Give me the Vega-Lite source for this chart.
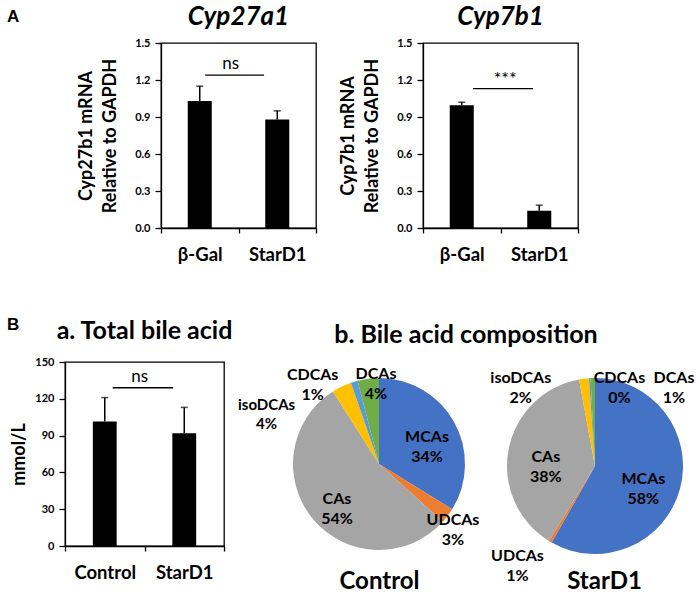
{
  "$schema": "https://vega.github.io/schema/vega-lite/v6.json",
  "background": "white",
  "padding": {"left": 7, "top": 3, "right": 0, "bottom": 0},
  "datasets": {
    "a1": [{"grp": "β-Gal", "mean": 1.03, "upper": 1.15}, {"grp": "StarD1", "mean": 0.88, "upper": 0.95}],
    "a2": [{"grp": "β-Gal", "mean": 0.995, "upper": 1.02}, {"grp": "StarD1", "mean": 0.14, "upper": 0.185}],
    "ba": [{"grp": "Control", "mean": 101.5, "upper": 121}, {"grp": "StarD1", "mean": 92, "upper": 113}],
    "pie": [
      {"group": "Control", "part": "MCAs", "k": 1, "frac": 0.338},
      {"group": "Control", "part": "UDCAs", "k": 2, "frac": 0.029},
      {"group": "Control", "part": "CAs", "k": 3, "frac": 0.543},
      {"group": "Control", "part": "isoDCAs", "k": 4, "frac": 0.037},
      {"group": "Control", "part": "CDCAs", "k": 5, "frac": 0.013},
      {"group": "Control", "part": "DCAs", "k": 6, "frac": 0.040},
      {"group": "StarD1", "part": "MCAs", "k": 1, "frac": 0.582},
      {"group": "StarD1", "part": "UDCAs", "k": 2, "frac": 0.006},
      {"group": "StarD1", "part": "CAs", "k": 3, "frac": 0.383},
      {"group": "StarD1", "part": "isoDCAs", "k": 4, "frac": 0.018},
      {"group": "StarD1", "part": "CDCAs", "k": 5, "frac": 0.003},
      {"group": "StarD1", "part": "DCAs", "k": 6, "frac": 0.008}
    ]
  },
  "config": {
    "font": "Lato",
    "view": {"stroke": null},
    "axis": {
      "labelColor": "black", "titleColor": "black", "domainColor": "black", "tickColor": "black",
      "labelFont": "Lato", "titleFont": "Lato", "labelFontWeight": "bold", "titleFontWeight": "bold",
      "domainWidth": 1.3, "tickWidth": 1.3, "grid": false, "labelOverlap": false
    },
    "axisX": {"labelAngle": 0, "tickBand": "extent", "labelFontSize": 18.5, "labelPadding": 12, "tickSize": 5},
    "axisY": {"tickSize": 6, "labelPadding": 5, "labelFontSize": 11, "titleFontSize": 18, "titleLineHeight": 24, "titlePadding": 15},
    "title": {"font": "Lato", "color": "black", "fontWeight": "bold"},
    "text": {"font": "Lato", "color": "black"}
  },
  "spacing": 51,
  "vconcat": [
    {
      "bounds": "flush",
      "spacing": 107,
      "hconcat": [
        {
          "width": 47, "height": 10,
          "title": {"text": "A", "anchor": "start", "frame": "group", "font": "Liberation Sans", "fontSize": 17, "offset": 16},
          "data": {"values": [{}]},
          "mark": {"type": "text", "text": ""}
        },
        {
          "width": 155, "height": 185,
          "view": {"stroke": "black", "strokeWidth": 1.3},
          "title": {"text": "Cyp27a1", "fontStyle": "italic", "fontSize": 26, "offset": 7},
          "data": {"name": "a1"},
          "encoding": {
            "x": {"field": "grp", "type": "nominal", "sort": null, "title": null,
                  "scale": {"domain": ["β-Gal", "StarD1"], "paddingInner": 0, "paddingOuter": 0}},
            "y": {"field": "mean", "type": "quantitative", "scale": {"domain": [0, 1.5], "nice": false},
                  "axis": {"values": [0, 0.3, 0.6, 0.9, 1.2, 1.5], "format": ".1f", "title": ["Cyp27b1 mRNA", "Relative to GAPDH"]}}
          },
          "layer": [
            {"mark": {"type": "bar", "color": "black", "width": {"band": 0.31}}},
            {"mark": {"type": "rule", "color": "black", "strokeWidth": 1.5},
             "encoding": {"y2": {"field": "upper"}}},
            {"mark": {"type": "tick", "color": "black", "thickness": 1.5, "size": 7},
             "encoding": {"y": {"field": "upper", "type": "quantitative"}}},
            {"data": {"values": [{"g1": "β-Gal"}]},
             "mark": {"type": "rule", "color": "black", "strokeWidth": 1.3},
             "encoding": {"x": {"field": "g1", "type": "nominal", "sort": null, "title": null, "bandPosition": 1},
                          "y": {"datum": 0}, "y2": {"datum": 0.057}}},
            {"data": {"values": [{"g1": "β-Gal", "g2": "StarD1", "y": 1.24}]},
             "mark": {"type": "rule", "color": "black", "strokeWidth": 1.3},
             "encoding": {"x": {"field": "g1", "type": "nominal", "sort": null, "title": null, "bandPosition": 0.57},
                          "x2": {"field": "g2", "bandPosition": 0.33},
                          "y": {"field": "y", "type": "quantitative"}}},
            {"data": {"values": [{"g1": "β-Gal", "y": 1.33, "label": "ns"}]},
             "mark": {"type": "text", "fontSize": 17, "fontWeight": "normal"},
             "encoding": {"x": {"field": "g1", "type": "nominal", "sort": null, "title": null, "bandPosition": 0.9},
                          "y": {"field": "y", "type": "quantitative"}, "text": {"field": "label"}}}
          ]
        },
        {
          "width": 155, "height": 185,
          "view": {"stroke": "black", "strokeWidth": 1.3},
          "title": {"text": "Cyp7b1", "fontStyle": "italic", "fontSize": 26, "offset": 7},
          "data": {"name": "a2"},
          "encoding": {
            "x": {"field": "grp", "type": "nominal", "sort": null, "title": null,
                  "scale": {"domain": ["β-Gal", "StarD1"], "paddingInner": 0, "paddingOuter": 0}},
            "y": {"field": "mean", "type": "quantitative", "scale": {"domain": [0, 1.5], "nice": false},
                  "axis": {"values": [0, 0.3, 0.6, 0.9, 1.2, 1.5], "format": ".1f", "title": ["Cyp7b1 mRNA", "Relative to GAPDH"]}}
          },
          "layer": [
            {"mark": {"type": "bar", "color": "black", "width": {"band": 0.31}}},
            {"mark": {"type": "rule", "color": "black", "strokeWidth": 1.5},
             "encoding": {"y2": {"field": "upper"}}},
            {"mark": {"type": "tick", "color": "black", "thickness": 1.5, "size": 7},
             "encoding": {"y": {"field": "upper", "type": "quantitative"}}},
            {"data": {"values": [{"g1": "β-Gal"}]},
             "mark": {"type": "rule", "color": "black", "strokeWidth": 1.3},
             "encoding": {"x": {"field": "g1", "type": "nominal", "sort": null, "title": null, "bandPosition": 1},
                          "y": {"datum": 0}, "y2": {"datum": 0.057}}},
            {"data": {"values": [{"g1": "β-Gal", "g2": "StarD1", "y": 1.13}]},
             "mark": {"type": "rule", "color": "black", "strokeWidth": 1.3},
             "encoding": {"x": {"field": "g1", "type": "nominal", "sort": null, "title": null, "bandPosition": 0.645},
                          "x2": {"field": "g2", "bandPosition": 0.42},
                          "y": {"field": "y", "type": "quantitative"}}},
            {"data": {"values": [{"g2": "StarD1", "y": 1.2, "label": "***"}]},
             "mark": {"type": "text", "fontSize": 18, "fontWeight": "normal"},
             "encoding": {"x": {"field": "g2", "type": "nominal", "sort": null, "title": null, "bandPosition": 0.06},
                          "y": {"field": "y", "type": "quantitative"}, "text": {"field": "label"}}}
          ]
        }
      ]
    },
    {
      "bounds": "flush",
      "spacing": 10,
      "hconcat": [
        {
          "width": 48, "height": 10,
          "title": {"text": "B", "anchor": "start", "frame": "group", "font": "Liberation Sans", "fontSize": 17, "offset": 27},
          "data": {"values": [{}]},
          "mark": {"type": "text", "text": ""}
        },
        {
          "width": 159, "height": 184,
          "view": {"stroke": "black", "strokeWidth": 1.3},
          "title": {"text": "a. Total bile acid", "fontSize": 25, "offset": 12},
          "data": {"name": "ba"},
          "encoding": {
            "x": {"field": "grp", "type": "nominal", "sort": null, "title": null,
                  "scale": {"domain": ["Control", "StarD1"], "paddingInner": 0, "paddingOuter": 0}},
            "y": {"field": "mean", "type": "quantitative", "scale": {"domain": [0, 150], "nice": false},
                  "axis": {"values": [0, 30, 60, 90, 120, 150], "format": "d", "title": "mmol/L", "titlePadding": 6}}
          },
          "layer": [
            {"mark": {"type": "bar", "color": "black", "width": {"band": 0.30}}},
            {"mark": {"type": "rule", "color": "black", "strokeWidth": 1.5},
             "encoding": {"y2": {"field": "upper"}}},
            {"mark": {"type": "tick", "color": "black", "thickness": 1.5, "size": 7},
             "encoding": {"y": {"field": "upper", "type": "quantitative"}}},
            {"data": {"values": [{"g1": "Control"}]},
             "mark": {"type": "rule", "color": "black", "strokeWidth": 1.3},
             "encoding": {"x": {"field": "g1", "type": "nominal", "sort": null, "title": null, "bandPosition": 1},
                          "y": {"datum": 0}, "y2": {"datum": 5.7}}},
            {"data": {"values": [{"g1": "Control", "g2": "StarD1", "y": 129}]},
             "mark": {"type": "rule", "color": "black", "strokeWidth": 1.3},
             "encoding": {"x": {"field": "g1", "type": "nominal", "sort": null, "title": null, "bandPosition": 0.6},
                          "x2": {"field": "g2", "bandPosition": 0.36},
                          "y": {"field": "y", "type": "quantitative"}}},
            {"data": {"values": [{"g1": "Control", "y": 137.8, "label": "ns"}]},
             "mark": {"type": "text", "fontSize": 17, "fontWeight": "normal"},
             "encoding": {"x": {"field": "g1", "type": "nominal", "sort": null, "title": null, "bandPosition": 0.94},
                          "y": {"field": "y", "type": "quantitative"}, "text": {"field": "label"}}}
          ]
        },
        {
          "width": 290, "height": 204,
          "title": {"text": "b. Bile acid composition", "anchor": "middle", "frame": "group", "fontSize": 25, "offset": 14, "dx": 87},
          "data": {"name": "pie"},
          "transform": [
            {"filter": "datum.group === 'Control'"},
            {"calculate": "datum.part + '\\n' + format(datum.frac, '.0%')", "as": "lbl"}
          ],
          "layer": [
            {"mark": {"type": "text", "text": ""},
             "encoding": {"x": {"field": "group", "type": "nominal", "title": null,
               "axis": {"ticks": false, "domain": false, "labelFontSize": 24, "labelPadding": 3}}}},
            {"mark": {"type": "arc", "outerRadius": 86},
             "encoding": {
               "theta": {"field": "frac", "type": "quantitative", "stack": true, "scale": {"domain": [0, 1]}},
               "order": {"field": "k", "type": "quantitative"},
               "color": {"field": "part", "type": "nominal", "legend": null,
                 "scale": {"domain": ["MCAs", "UDCAs", "CAs", "isoDCAs", "CDCAs", "DCAs"],
                           "range": ["#4472C4", "#ED7D31", "#A5A5A5", "#FFC000", "#5B9BD5", "#70AD47"]}}
             }},
            {"mark": {"type": "text", "radius": 55, "fontSize": 16, "fontWeight": "bold", "lineBreak": "\n", "lineHeight": 20},
             "encoding": {
               "theta": {"field": "frac", "type": "quantitative", "stack": true},
               "order": {"field": "k", "type": "quantitative"},
               "detail": {"field": "part"},
               "text": {"condition": {"test": "datum.part === 'MCAs' || datum.part === 'CAs'", "field": "lbl"}, "value": ""}
             }},
            {"transform": [{"window": [{"op": "sum", "field": "frac", "as": "cum"}], "sort": [{"field": "k"}]}, {"filter": "datum.part === 'UDCAs'"}],
             "mark": {"type": "text", "radius": 93, "dx": 5, "dy": -6, "fontSize": 16, "fontWeight": "bold", "lineBreak": "\n", "lineHeight": 20},
             "encoding": {"theta": {"field": "cum", "type": "quantitative"}, "text": {"field": "lbl"}}},
            {"transform": [{"window": [{"op": "sum", "field": "frac", "as": "cum"}], "sort": [{"field": "k"}]}, {"filter": "datum.part === 'isoDCAs'"}],
             "mark": {"type": "text", "radius": 90, "dx": -83, "dy": 26, "fontSize": 15, "fontWeight": "bold", "lineBreak": "\n", "lineHeight": 19},
             "encoding": {"theta": {"field": "cum", "type": "quantitative"}, "text": {"field": "lbl"}}},
            {"transform": [{"window": [{"op": "sum", "field": "frac", "as": "cum"}], "sort": [{"field": "k"}]}, {"filter": "datum.part === 'CDCAs'"}],
             "mark": {"type": "text", "radius": 90, "dx": -44, "dy": -2, "fontSize": 16, "fontWeight": "bold", "lineBreak": "\n", "lineHeight": 20},
             "encoding": {"theta": {"field": "cum", "type": "quantitative"}, "text": {"field": "lbl"}}},
            {"transform": [{"window": [{"op": "sum", "field": "frac", "as": "cum"}], "sort": [{"field": "k"}]}, {"filter": "datum.part === 'DCAs'"}],
             "mark": {"type": "text", "radius": 90, "dx": -3, "dy": 0, "fontSize": 16, "fontWeight": "bold", "lineBreak": "\n", "lineHeight": 20},
             "encoding": {"theta": {"field": "cum", "type": "quantitative"}, "text": {"field": "lbl"}}}
          ]
        },
        {
          "width": 122, "height": 208,
          "data": {"name": "pie"},
          "transform": [
            {"filter": "datum.group === 'StarD1'"},
            {"calculate": "datum.part + '\\n' + format(datum.frac, '.0%')", "as": "lbl"}
          ],
          "layer": [
            {"mark": {"type": "text", "text": ""},
             "encoding": {"x": {"field": "group", "type": "nominal", "title": null,
               "axis": {"ticks": false, "domain": false, "labelFontSize": 24, "labelPadding": -1, "labelOffset": 9}}}},
            {"mark": {"type": "arc", "outerRadius": 88},
             "encoding": {
               "theta": {"field": "frac", "type": "quantitative", "stack": true, "scale": {"domain": [0, 1]}},
               "order": {"field": "k", "type": "quantitative"},
               "color": {"field": "part", "type": "nominal", "legend": null,
                 "scale": {"domain": ["MCAs", "UDCAs", "CAs", "isoDCAs", "CDCAs", "DCAs"],
                           "range": ["#4472C4", "#ED7D31", "#A5A5A5", "#FFC000", "#5B9BD5", "#70AD47"]}}
             }},
            {"mark": {"type": "text", "radius": 50, "fontSize": 16, "fontWeight": "bold", "lineBreak": "\n", "lineHeight": 20},
             "encoding": {
               "theta": {"field": "frac", "type": "quantitative", "stack": true},
               "order": {"field": "k", "type": "quantitative"},
               "detail": {"field": "part"},
               "text": {"condition": {"test": "datum.part === 'MCAs' || datum.part === 'CAs'", "field": "lbl"}, "value": ""}
             }},
            {"transform": [{"window": [{"op": "sum", "field": "frac", "as": "cum"}], "sort": [{"field": "k"}]}, {"filter": "datum.part === 'UDCAs'"}],
             "mark": {"type": "text", "radius": 100, "dx": -25, "dy": 5, "fontSize": 16, "fontWeight": "bold", "lineBreak": "\n", "lineHeight": 20},
             "encoding": {"theta": {"field": "cum", "type": "quantitative"}, "text": {"field": "lbl"}}},
            {"transform": [{"window": [{"op": "sum", "field": "frac", "as": "cum"}], "sort": [{"field": "k"}]}, {"filter": "datum.part === 'isoDCAs'"}],
             "mark": {"type": "text", "radius": 90, "dx": -68, "dy": 2, "fontSize": 16, "fontWeight": "bold", "lineBreak": "\n", "lineHeight": 20},
             "encoding": {"theta": {"field": "cum", "type": "quantitative"}, "text": {"field": "lbl"}}},
            {"transform": [{"window": [{"op": "sum", "field": "frac", "as": "cum"}], "sort": [{"field": "k"}]}, {"filter": "datum.part === 'CDCAs'"}],
             "mark": {"type": "text", "radius": 90, "dx": 29, "dy": 2, "fontSize": 16, "fontWeight": "bold", "lineBreak": "\n", "lineHeight": 20},
             "encoding": {"theta": {"field": "cum", "type": "quantitative"}, "text": {"field": "lbl"}}},
            {"transform": [{"window": [{"op": "sum", "field": "frac", "as": "cum"}], "sort": [{"field": "k"}]}, {"filter": "datum.part === 'DCAs'"}],
             "mark": {"type": "text", "radius": 90, "dx": 79, "dy": 2, "fontSize": 16, "fontWeight": "bold", "lineBreak": "\n", "lineHeight": 20},
             "encoding": {"theta": {"field": "cum", "type": "quantitative"}, "text": {"field": "lbl"}}}
          ]
        }
      ]
    }
  ]
}
